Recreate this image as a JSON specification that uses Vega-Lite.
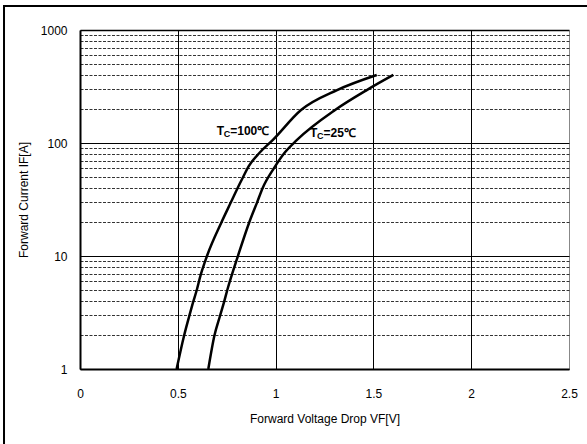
{
  "$schema": "https://vega.github.io/schema/vega-lite/v6.json",
  "width": 489,
  "height": 339,
  "autosize": {"type": "none"},
  "padding": {"left": 80, "top": 30, "right": 18, "bottom": 75},
  "background": "white",
  "config": {"view": {"stroke": null}, "font": "Liberation Sans"},
  "datasets": {
    "curves": [
      {"s": "100", "V": 0.494, "I": 1},
      {"s": "100", "V": 0.532, "I": 1.97},
      {"s": "100", "V": 0.559, "I": 2.96},
      {"s": "100", "V": 0.578, "I": 3.89},
      {"s": "100", "V": 0.597, "I": 5.0},
      {"s": "100", "V": 0.617, "I": 6.8},
      {"s": "100", "V": 0.639, "I": 8.9},
      {"s": "100", "V": 0.651, "I": 10.2},
      {"s": "100", "V": 0.724, "I": 20},
      {"s": "100", "V": 0.772, "I": 30},
      {"s": "100", "V": 0.806, "I": 40},
      {"s": "100", "V": 0.834, "I": 50},
      {"s": "100", "V": 0.862, "I": 62},
      {"s": "100", "V": 0.918, "I": 82},
      {"s": "100", "V": 0.985, "I": 106},
      {"s": "100", "V": 1.13, "I": 196},
      {"s": "100", "V": 1.314, "I": 294},
      {"s": "100", "V": 1.517, "I": 400},
      {"s": "25", "V": 0.656, "I": 1},
      {"s": "25", "V": 0.687, "I": 1.97},
      {"s": "25", "V": 0.716, "I": 2.96},
      {"s": "25", "V": 0.736, "I": 3.89},
      {"s": "25", "V": 0.753, "I": 5.0},
      {"s": "25", "V": 0.809, "I": 10.2},
      {"s": "25", "V": 0.866, "I": 20},
      {"s": "25", "V": 0.906, "I": 30},
      {"s": "25", "V": 0.934, "I": 40},
      {"s": "25", "V": 0.992, "I": 60},
      {"s": "25", "V": 1.046, "I": 82},
      {"s": "25", "V": 1.108, "I": 106},
      {"s": "25", "V": 1.304, "I": 196},
      {"s": "25", "V": 1.466, "I": 294},
      {"s": "25", "V": 1.602, "I": 400}
    ],
    "labels": [
      {"T": "T", "C": "C", "rest": "=100℃", "V": 0.699, "I": 118},
      {"T": "T", "C": "C", "rest": "=25℃", "V": 1.176, "I": 113}
    ],
    "frame": [{"V": -0.3885, "V2": 3.2, "I": 1630, "I2": 0.05}]
  },
  "encoding": {
    "x": {
      "field": "V",
      "type": "quantitative",
      "scale": {"domain": [0, 2.5], "nice": false, "zero": false},
      "axis": {
        "title": "Forward Voltage Drop VF[V]",
        "values": [0, 0.5, 1, 1.5, 2, 2.5],
        "format": "~g",
        "grid": true,
        "gridColor": {"condition": {"test": "datum.value == 2.5", "value": "#888888"}, "value": "#000000"},
        "gridWidth": 1,
        "gridOpacity": 1,
        "domainColor": "#000000",
        "domainWidth": 2,
        "ticks": false,
        "labelPadding": 19,
        "labelFontSize": 12,
        "labelColor": "#000000",
        "labelFont": "Liberation Sans",
        "titleFont": "Liberation Sans",
        "titleFontSize": 12,
        "titleFontWeight": "normal",
        "titleColor": "#000000",
        "titlePadding": 14,
        "labelFlush": false
      }
    },
    "y": {
      "field": "I",
      "type": "quantitative",
      "scale": {"type": "log", "domain": [1, 1000], "nice": false},
      "axis": {
        "title": "Forward Current IF[A]",
        "values": [1, 2, 3, 4, 5, 6, 7, 8, 9, 10, 20, 30, 40, 50, 60, 70, 80, 90, 100, 200, 300, 400, 500, 600, 700, 800, 900, 1000],
        "format": "d",
        "labelExpr": "indexof([1, 10, 100, 1000], datum.value) >= 0 ? datum.label : ''",
        "grid": true,
        "gridDash": {"condition": {"test": "indexof([1, 10, 100, 1000], datum.value) >= 0", "value": []}, "value": [3, 1.5]},
        "gridColor": {"condition": {"test": "indexof([1, 10, 100, 1000], datum.value) >= 0", "value": "#000000"}, "value": "#333333"},
        "gridWidth": {"condition": {"test": "datum.value == 1000", "value": 1.5}, "value": 1},
        "gridOpacity": 1,
        "domainColor": "#000000",
        "domainWidth": 2,
        "ticks": false,
        "labelPadding": 13,
        "labelFontSize": 12,
        "labelColor": "#000000",
        "labelFont": "Liberation Sans",
        "labelOverlap": false,
        "titleFont": "Liberation Sans",
        "titleFontSize": 12,
        "titleFontWeight": "normal",
        "titleColor": "#000000",
        "titlePadding": 10
      }
    }
  },
  "layer": [
    {
      "data": {"name": "frame"},
      "mark": {"type": "rect", "fill": null, "stroke": "#000000", "strokeWidth": 2, "clip": false},
      "encoding": {"x2": {"field": "V2"}, "y2": {"field": "I2"}}
    },
    {
      "data": {"name": "curves"},
      "mark": {"type": "line", "color": "#000000", "strokeWidth": 2.5, "interpolate": "monotone"},
      "encoding": {"detail": {"field": "s", "type": "nominal"}}
    },
    {
      "data": {"name": "labels"},
      "mark": {"type": "text", "align": "left", "baseline": "alphabetic", "fontSize": 12, "fontWeight": "bold", "font": "Liberation Sans", "color": "#000000"},
      "encoding": {"text": {"field": "T"}}
    },
    {
      "data": {"name": "labels"},
      "mark": {"type": "text", "align": "left", "baseline": "alphabetic", "fontSize": 9, "fontWeight": "bold", "font": "Liberation Sans", "color": "#000000", "dx": 7, "dy": 2},
      "encoding": {"text": {"field": "C"}}
    },
    {
      "data": {"name": "labels"},
      "mark": {"type": "text", "align": "left", "baseline": "alphabetic", "fontSize": 12, "fontWeight": "bold", "font": "Liberation Sans", "color": "#000000", "dx": 13.5},
      "encoding": {"text": {"field": "rest"}}
    }
  ]
}
